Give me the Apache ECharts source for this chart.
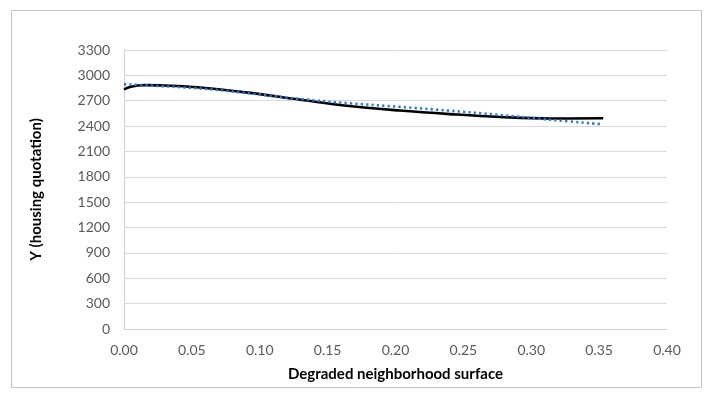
<!DOCTYPE html>
<html><head><meta charset="utf-8">
<script src="https://cdn.jsdelivr.net/npm/echarts@6/dist/echarts.min.js"></script>
<style>html,body{margin:0;padding:0;background:#fff}#c{width:709px;height:398px}</style>
</head><body><div id="c"></div>
<script>
var xTicks = [0, 0.05, 0.10, 0.15, 0.20, 0.25, 0.30, 0.35, 0.40];
var yTicks = [0, 300, 600, 900, 1200, 1500, 1800, 2100, 2400, 2700, 3000, 3300];
var observedX = [0, 0.005, 0.015, 0.03, 0.056, 0.093, 0.13, 0.166, 0.203, 0.24, 0.277, 0.314, 0.353];
var observedY = [2835, 2866, 2884, 2881, 2857, 2793, 2712, 2638, 2584, 2542, 2508, 2490, 2492];
var trendX = [0, 0.056, 0.093, 0.13, 0.166, 0.203, 0.24, 0.277, 0.314, 0.353];
var trendY = [2894, 2845, 2786, 2720, 2670, 2628, 2582, 2532, 2475, 2421];

function pairs(xs, ys){ return xs.map(function(x,i){return [x, ys[i]];}); }

var chart = echarts.init(document.getElementById('c'));
chart.setOption({
  animation: false,
  graphic: [{type:'rect', shape:{x:11.5,y:10.5,width:690,height:377}, style:{fill:'none', stroke:'#c4c4c4', lineWidth:1}}],
  grid: {left:124, right:42, top:50, bottom:69},
  xAxis: {
    type:'value', min:0, max:0.4, interval:0.05,
    name:'Degraded neighborhood surface', nameLocation:'middle', nameGap:38,
    nameTextStyle:{fontFamily:'Lato', fontWeight:'bold', fontSize:15, color:'#000'},
    axisLine:{show:true, lineStyle:{color:'#d0d0d0', width:1}},
    axisTick:{show:false}, splitLine:{show:false},
    axisLabel:{fontFamily:'Lato', fontSize:14, color:'#595959', margin:14,
      formatter:function(v){return v.toFixed(2);}}
  },
  yAxis: {
    type:'value', min:0, max:3300, interval:300,
    name:'Y (housing quotation)', nameLocation:'middle', nameGap:80,
    nameTextStyle:{fontFamily:'Lato', fontWeight:'bold', fontSize:15, color:'#000'},
    axisLine:{show:true, lineStyle:{color:'#d0d0d0', width:1}},
    axisTick:{show:false},
    splitLine:{show:true, lineStyle:{color:'#d9d9d9', width:1}},
    axisLabel:{fontFamily:'Lato', fontSize:14, color:'#595959', margin:14,
      formatter:function(v){return String(v);}}
  },
  series: [
    {type:'line', data:pairs(trendX, trendY), smooth:0.4, showSymbol:false,
     lineStyle:{color:'#2a78d8', width:2.6, type:[2.2,3.2]}, z:3},
    {type:'line', data:pairs(observedX, observedY), smooth:0.4, showSymbol:false,
     lineStyle:{color:'#000', width:2.6}, z:2}
  ]
});
</script></body></html>
